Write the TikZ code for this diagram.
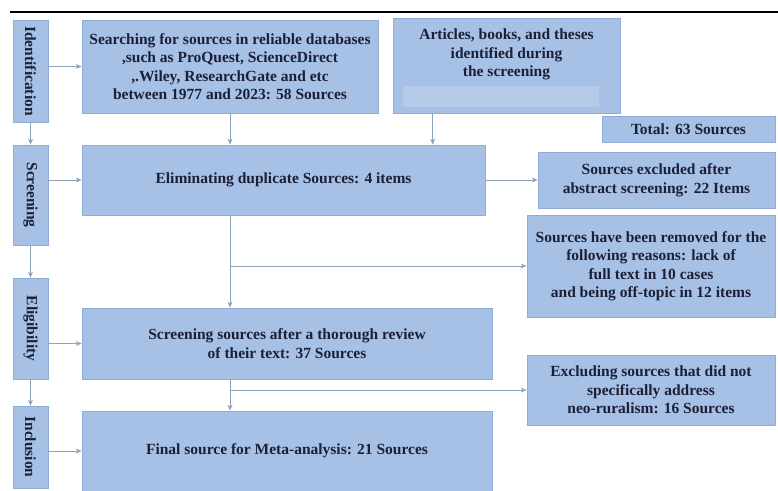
\documentclass[tikz,border=0pt]{standalone}
\usepackage{fontspec}
\setmainfont{Liberation Serif}
\usepackage{xcolor}
\usepackage{tikz}
\usetikzlibrary{positioning,calc,arrows.meta}

\definecolor{boxfill}{HTML}{A6C0E6}
\definecolor{boxline}{HTML}{8FABD8}
\definecolor{blankfill}{HTML}{B6CBEA}
\definecolor{arrowline}{HTML}{8FA2BC}
\definecolor{boxtext}{HTML}{1C2036}

\tikzset{
  flowbox/.style={rectangle, draw=boxline, line width=0.8pt, fill=boxfill,
    text=boxtext, align=center, inner sep=3pt,
    font=\fontsize{15.5}{18.5}\selectfont\bfseries},
  stagebox/.style={flowbox, minimum width=35pt},
  plaintext/.style={text=boxtext, align=center, inner sep=2pt,
    font=\fontsize{15.5}{18.5}\selectfont\bfseries},
  arr/.style={draw=arrowline, line width=0.7pt,
    -{Stealth[length=6pt,width=5pt]}},
  link/.style={draw=arrowline, line width=0.7pt}
}

\begin{document}
\begin{tikzpicture}[x=1pt,y=-1pt]
\useasboundingbox (0,0) rectangle (778,490);
\draw[line width=2pt] (10,12) -- (778,12);

\node (stage-id) [stagebox, minimum height=102pt] at (30.5,71)
    {\rotatebox{-90}{Identification}};
\node (stage-scr) [stagebox, minimum height=100pt] at (30.5,195)
    {\rotatebox{-90}{Screening}};
\node (stage-eli) [stagebox, minimum height=101pt] at (30.5,328.5)
    {\rotatebox{-90}{Eligibility}};
\node (stage-inc) [stagebox, minimum height=82pt] at (30.5,447)
    {\rotatebox{-90}{Inclusion}};

\node (search) [flowbox, minimum width=296pt, minimum height=93pt]
    at (230,66.5) {Searching for sources in reliable databases\\
    ,such as ProQuest, ScienceDirect\\ ,.Wiley, ResearchGate and etc\\
    between 1977 and 2023: 58 Sources};
\node (articles) [flowbox, minimum width=227pt, minimum height=95pt]
    at (506.5,65.5) {};
\node (articles-text) [plaintext, below=9pt of articles.north]
    {Articles, books, and theses\\ identified during\\ the screening};
\fill[blankfill] ([xshift=10pt,yshift=6pt]articles.south west)
    rectangle ([xshift=-21pt,yshift=27pt]articles.south east);
\node (total) [flowbox, minimum width=173pt, minimum height=26pt]
    at (688.5,129) {Total: 63 Sources};

\node (elim) [flowbox, minimum width=403pt, minimum height=70pt]
    at (283.5,180) {Eliminating duplicate Sources: 4 items};
\node (excl) [flowbox, minimum width=237pt, minimum height=56pt]
    at (656.5,180) {Sources excluded after\\ abstract screening: 22 Items};
\node (removed) [flowbox, minimum width=248pt, minimum height=102pt]
    at (651,266) {Sources have been removed for the\\
    following reasons: lack of\\ full text in 10 cases\\
    and being off-topic in 12 items};
\node (review) [flowbox, minimum width=410pt, minimum height=71pt]
    at (287,343.5) {Screening sources after a thorough review\\
    of their text: 37 Sources};
\node (neoexcl) [flowbox, minimum width=248pt, minimum height=70pt]
    at (651,390) {Excluding sources that did not\\ specifically address\\
    neo-ruralism: 16 Sources};
\node (final) [flowbox, minimum width=410pt, minimum height=80pt]
    at (287,451) {Final source for Meta-analysis: 21 Sources};

\draw[arr] (stage-id.south) -- (stage-scr.north);
\draw[arr] (stage-scr.south) -- (stage-eli.north);
\draw[arr] (stage-eli.south) -- (stage-inc.north);

\draw[arr] (stage-id.east |- search.west) -- (search.west);
\draw[arr] (stage-scr.east |- elim.west) -- (elim.west);
\draw[arr] (stage-eli.east |- review.west) -- (review.west);
\draw[arr] (stage-inc.east |- final.west) -- (final.west);

\coordinate (articles-out) at ($(articles.south west)!0.176!(articles.south east)$);
\draw[arr] (search.south) -- (search.south |- elim.north);
\draw[arr] (articles-out) -- (articles-out |- elim.north);
\draw[arr] (elim.east) -- (excl.west);

\draw[arr] (elim.south -| search.south) -- (review.north -| search.south);
\draw[arr] (removed.west -| search.south) -- (removed.west);
\draw[arr] (review.south -| search.south) -- (final.north -| search.south);
\draw[arr] (neoexcl.west -| search.south) -- (neoexcl.west);
\end{tikzpicture}
\end{document}
